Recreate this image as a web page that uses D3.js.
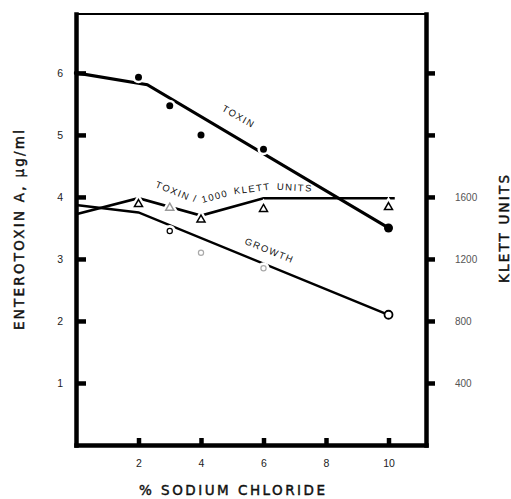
<!DOCTYPE html>
<meta charset="utf-8">
<svg width="511" height="499"></svg>
<style>
	body { margin: 0; background: #fff; }
	svg { display: block; font-family: "Liberation Sans", Arial, sans-serif; }
	.axis path, .axis line { stroke: #000; stroke-width: 4.5; }
	.axis path { stroke-linecap: square; }
	.axis text { font-family: "Liberation Sans", Arial, sans-serif; font-size: 10.5px; fill: #222; }
	.axis.right text { fill: #555; font-size: 10px; }
	.title { font-family: "DejaVu Sans", sans-serif; font-size: 13.5px; fill: #111; stroke: #111; stroke-width: 0.45px; }
	.note { font-size: 9.5px; fill: #111; letter-spacing: 1.5px; }
</style>
<script src="https://cdn.jsdelivr.net/npm/d3@7"></script>
<script>

// toxin, µg/ml
var toxinX = [0, 2, 3, 4, 6, 10];
var toxin = [6.0, 5.93, 5.47, 5.0, 4.77, 3.5];
var toxinFitX = [0, 2.28, 10];
var toxinFitY = [6.0, 5.81, 3.5];

// toxin per 1000 klett units (left scale)
var ratioX = [2, 3, 4, 6, 10];
var ratio = [3.9, 3.84, 3.65, 3.82, 3.85];
var ratioFitX = [0, 2, 4, 6, 10.2];
var ratioFitY = [3.72, 3.98, 3.7, 3.98, 3.98];

// growth, klett units (right scale)
var growthX = [3, 4, 6, 10];
var growth = [1380, 1240, 1140, 840];
var growthFitX = [0, 2, 10];
var growthFitY = [1548, 1500, 840];

var xTicks = [2, 4, 6, 8, 10];
var yTicks = [1, 2, 3, 4, 5, 6];
var kTicks = [400, 800, 1200, 1600, 2000, 2400];
var kLabels = ["400", "800", "1200", "1600", "", ""];

var svg = d3.select("svg"),
	margin = {top: 14, right: 85, bottom: 54, left: 76},
	width = +svg.attr("width") - margin.left - margin.right,
	height = +svg.attr("height") - margin.top - margin.bottom,
	g = svg.append("g").attr("transform", "translate(" + margin.left + "," + margin.top + ")");

var x = d3.scaleLinear().domain([0, 11.2]).range([0, width]);
var y = d3.scaleLinear().domain([0, 6.95]).range([height, 0]);
var yk = d3.scaleLinear().domain([0, 6.95 * 400]).range([height, 0]);

// frame top
g.append("line")
	.attr("x1", 0).attr("x2", width)
	.attr("y1", 0).attr("y2", 0)
	.attr("stroke", "#000").attr("stroke-width", 2);

var line = d3.line().x(function (d) { return x(d[0]); }).y(function (d) { return d[1]; });

function pairs(xs, ys, sc) {
	return xs.map(function (v, i) { return [v, sc(ys[i])]; });
}

// lines
g.append("path")
	.attr("d", line(pairs(toxinFitX, toxinFitY, y)))
	.attr("fill", "none").attr("stroke", "#000").attr("stroke-width", 3.2);

g.append("path")
	.attr("d", line(pairs(ratioFitX, ratioFitY, y)))
	.attr("fill", "none").attr("stroke", "#000").attr("stroke-width", 2.6);

g.append("path")
	.attr("d", line(pairs(growthFitX, growthFitY, yk)))
	.attr("fill", "none").attr("stroke", "#000").attr("stroke-width", 2.4);

// toxin dots
var tox = pairs(toxinX, toxin, y);
g.selectAll(".toxHalo")
	.data(tox.filter(function (d) { return d[0] > 0 && d[0] < 10; }))
	.enter().append("circle")
	.attr("cx", function (d) { return x(d[0]); })
	.attr("cy", function (d) { return d[1]; })
	.attr("r", 6).attr("fill", "#fff");
g.selectAll(".tox")
	.data(tox)
	.enter().append("circle")
	.attr("cx", function (d) { return x(d[0]); })
	.attr("cy", function (d) { return d[1]; })
	.attr("r", function (d) { return d[0] === 10 ? 4.5 : d[0] === 0 ? 2.2 : 3.5; })
	.attr("fill", "#000");

// triangles
var tri = d3.symbol().type(d3.symbolTriangle).size(28);
var rat = pairs(ratioX, ratio, y);
g.selectAll(".triHalo")
	.data(rat)
	.enter().append("path")
	.attr("transform", function (d) { return "translate(" + x(d[0]) + "," + (d[1] + 1) + ")"; })
	.attr("d", tri)
	.attr("fill", "#fff").attr("stroke", "#fff").attr("stroke-width", 6);
g.selectAll(".tri")
	.data(rat)
	.enter().append("path")
	.attr("transform", function (d) { return "translate(" + x(d[0]) + "," + (d[1] + 1) + ")"; })
	.attr("d", tri)
	.attr("fill", "#fff")
	.attr("stroke", function (d) { return d[0] === 3 ? "#999" : "#000"; })
	.attr("stroke-width", 1.5);

// growth circles
var gro = pairs(growthX, growth, yk);
g.selectAll(".groHalo")
	.data(gro.filter(function (d) { return d[0] < 10; }))
	.enter().append("circle")
	.attr("cx", function (d) { return x(d[0]); })
	.attr("cy", function (d) { return d[1]; })
	.attr("r", 6).attr("fill", "#fff");
g.selectAll(".gro")
	.data(gro)
	.enter().append("circle")
	.attr("cx", function (d) { return x(d[0]); })
	.attr("cy", function (d) { return d[1]; })
	.attr("r", function (d) { return d[0] === 10 ? 4 : 2.6; })
	.attr("fill", "#fff")
	.attr("stroke", function (d) { return (d[0] === 4 || d[0] === 6) ? "#aaa" : "#000"; })
	.attr("stroke-width", function (d) { return d[0] === 10 ? 1.8 : 1.2; });

// axes drawn over the marks
g.append("g")
	.attr("class", "axis")
	.attr("transform", "translate(0," + height + ")")
	.call(d3.axisBottom(x).tickValues(xTicks).tickSize(-7).tickSizeOuter(0).tickPadding(15));

g.append("g")
	.attr("class", "axis")
	.call(d3.axisLeft(y).tickValues(yTicks).tickSize(-10).tickSizeOuter(0).tickPadding(13).tickFormat(d3.format("d")));

g.append("g")
	.attr("class", "axis right")
	.attr("transform", "translate(" + width + ",0)")
	.call(d3.axisRight(yk).tickValues(kTicks).tickSize(9).tickSizeOuter(0).tickPadding(20)
		.tickFormat(function (d, i) { return kLabels[i]; }));

svg.selectAll(".axis .domain").attr("stroke-width", 4.5);

// titles
svg.append("text")
	.attr("class", "title")
	.attr("transform", "translate(24,230) rotate(-90)")
	.attr("text-anchor", "middle")
	.attr("textLength", 200).attr("lengthAdjust", "spacing")
	.text("ENTEROTOXIN A, µg/ml");

svg.append("text")
	.attr("class", "title")
	.attr("x", 232).attr("y", 495)
	.attr("text-anchor", "middle")
	.attr("textLength", 186).attr("lengthAdjust", "spacing")
	.text("% SODIUM CHLORIDE");

svg.append("text")
	.attr("class", "title")
	.attr("transform", "translate(509,229) rotate(-90)")
	.attr("text-anchor", "middle")
	.attr("textLength", 108).attr("lengthAdjust", "spacing")
	.text("KLETT UNITS");

// line labels
function note(txt, xv, yv, ang, sc) {
	g.append("text")
		.attr("class", "note")
		.attr("text-anchor", "middle")
		.attr("transform", "translate(" + x(xv) + "," + sc(yv) + ") rotate(" + ang + ")")
		.text(txt);
}
note("TOXIN", 5.15, 5.25, 30, y);
note("GROWTH", 6.15, 1235, 22, yk);
note("TOXIN", 3.06, 4.05, 22, y);
note("/", 3.8, 3.92, 10, y);
note("1000", 4.47, 3.96, -15, y);
note("KLETT", 5.65, 4.08, -7, y);
note("UNITS", 7.0, 4.1, 3, y);

</script>
